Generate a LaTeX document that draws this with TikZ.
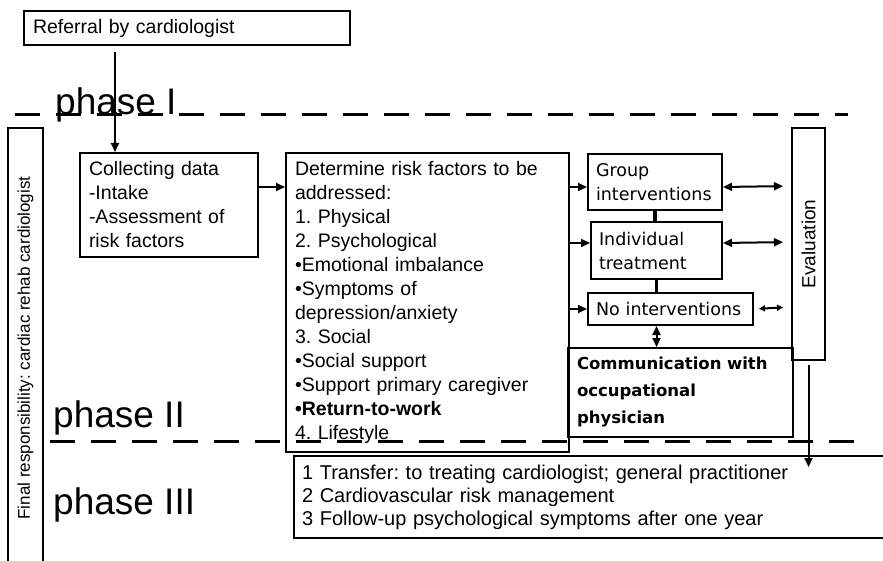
\documentclass[tikz,border=0pt]{standalone}
\usepackage{fontspec}
\setmainfont{Liberation Sans}
\newfontfamily\dvsans{DejaVu Sans}
\usepackage{tikz}
\usetikzlibrary{arrows.meta}
\frenchspacing

\tikzset{
  box/.style={draw, line width=2pt, anchor=north west, align=left,
              inner xsep=9pt, inner ysep=0pt,
              font=\fontsize{19.5}{24}\selectfont},
  rbox/.style={box, font=\dvsans\fontsize{17.5}{24}\selectfont, inner xsep=8pt},
  vbox/.style={draw, line width=2pt, inner sep=0pt},
  arr/.style={line width=2pt, -{Triangle[length=9pt,width=8pt]}},
  dbl/.style={line width=2pt,
              {Triangle[length=9pt,width=8pt]}-{Triangle[length=9pt,width=8pt]}},
  dblsmall/.style={line width=2pt,
              {Triangle[length=6pt,width=6pt]}-{Triangle[length=6pt,width=6pt]}},
  link/.style={line width=3.5pt},
  phaseline/.style={line width=3pt, dash pattern=on 25pt off 16pt},
  phaselbl/.style={anchor=base west, inner sep=0pt,
                   font=\fontsize{37}{40}\selectfont},
}

\begin{document}
\begin{tikzpicture}[x=1pt, y=-1pt]
  \useasboundingbox (0,0) rectangle (883,561);
  % Phase separators and labels
  \draw[phaseline] (15,115) -- (848,115);
  \draw[phaseline] (50,441) -- (865,441);
  \node[phaselbl] (ph1) at (55,115) {phase I};
  \node[phaselbl] (ph2) at (53,427) {phase II};
  \node[phaselbl] (ph3) at (53,514) {phase III};
  % Responsibility column (runs off the bottom)
  \node[vbox, minimum width=35pt, minimum height=440pt,
        font=\fontsize{17}{20}\selectfont] (resp) at (25.5,348)
    {\rotatebox{90}{Final responsibility: cardiac rehab cardiologist}};
  % Phase I
  \node[box, text width=308pt, minimum height=34pt] (referral) at (23,10)
    {Referral by cardiologist};
  \node[box, text width=160pt, minimum height=104pt] (collect) at (79,152)
    {Collecting data\\-Intake\\-Assessment of\\risk factors};
  % Phase II
  \node[box, text width=265pt, minimum height=299pt] (determine) at (285,152)
    {Determine risk factors to be\\addressed:\\1. Physical\\2. Psychological\\
     •Emotional imbalance\\•Symptoms of\\depression/anxiety\\3. Social\\
     •Social support\\•Support primary caregiver\\\textbf{•Return-to-work}\\
     4. Lifestyle};
  \node[rbox, text width=118pt, minimum height=56pt] (group) at (587,153)
    {Group\\interventions};
  \node[rbox, text width=115pt, minimum height=57pt] (indiv) at (590,221)
    {Individual\\treatment};
  \node[rbox, text width=149pt, minimum height=32pt] (nointv) at (587,292)
    {No interventions};
  \node[rbox, font=\dvsans\bfseries\fontsize{16.5}{27}\selectfont,
        text width=207pt, minimum height=89pt, inner xsep=9pt] (comm) at (567,347)
    {Communication with\\occupational\\physician};
  \node[vbox, minimum width=33pt, minimum height=232pt,
        font=\fontsize{19}{22}\selectfont] (eval) at (808.5,244)
    {\rotatebox{90}{Evaluation}};
  % Phase III
  \node[box, font=\fontsize{20}{23}\selectfont, text width=584pt,
        minimum height=82pt, inner xsep=8pt] (followup) at (293,455)
    {1 Transfer: to treating cardiologist; general practitioner\\
     2 Cardiovascular risk management\\
     3 Follow-up psychological symptoms after one year};
  % Connectors
  \coordinate (refout) at (115,52);
  \coordinate (evalend) at (808.5,467);
  \draw[arr] (refout) -- (refout |- collect.north);
  \draw[arr] ([yshift=-35pt]collect.north east) -- ([yshift=-35pt]determine.north west);
  \draw[arr] ([yshift=-35pt]determine.north east) -- ([yshift=-34pt]group.north west);
  \draw[arr] ([yshift=-91pt]determine.north east) -- ([yshift=-22pt]indiv.north west);
  \draw[arr] (determine.east |- nointv.west) -- (nointv.west);
  \draw[link] (group.south) -- (group.south |- indiv.north);
  \draw[link] (indiv.south) -- (indiv.south |- nointv.north);
  \draw[dbl] (nointv.south -| indiv.south) -- (indiv.south |- comm.north);
  \draw[dbl, shorten >=8pt] ([yshift=-34pt]group.north east) -- ([yshift=-59pt]eval.north west);
  \draw[dbl, shorten >=8pt] ([yshift=-22pt]indiv.north east) -- ([yshift=-115pt]eval.north west);
  \draw[dblsmall, shorten <=5pt, shorten >=8pt] (nointv.east) -- ([yshift=-180pt]eval.north west);
  \draw[arr, shorten <=4pt] (eval.south) -- (evalend);
\end{tikzpicture}
\end{document}
